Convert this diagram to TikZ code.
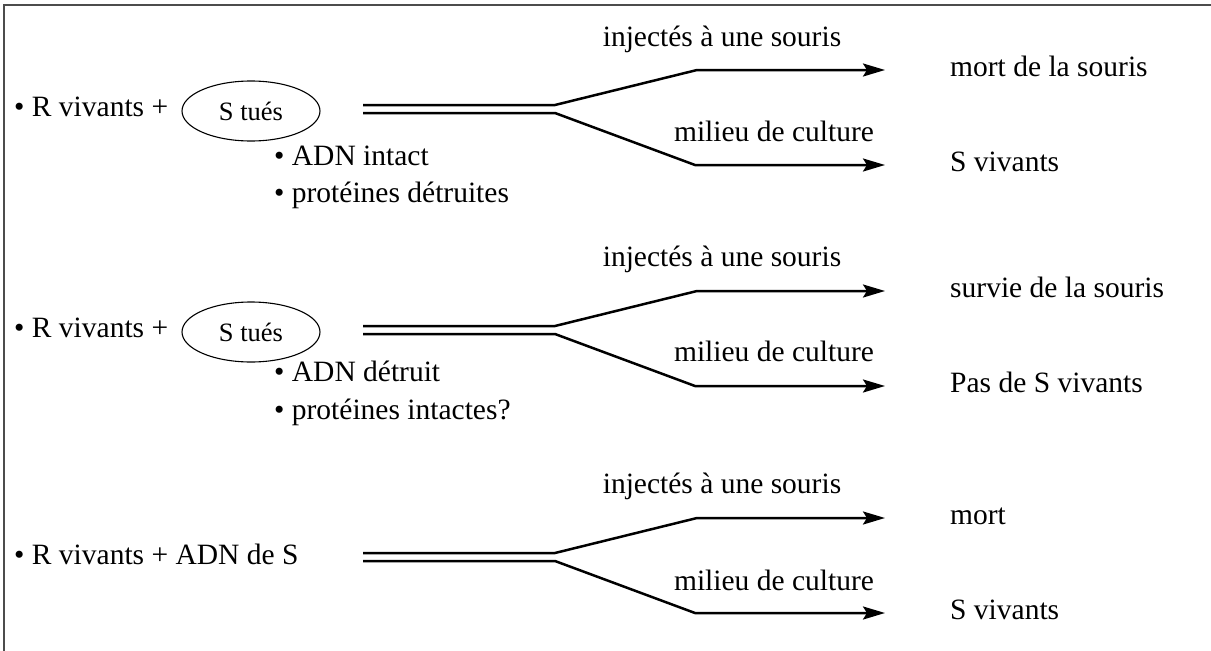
\documentclass[tikz,border=0pt]{standalone}
\usepackage{fontspec}
\setmainfont{Liberation Serif}
\usetikzlibrary{arrows.meta,shapes.geometric}
\begin{document}
\begin{tikzpicture}[x=1pt,y=-1pt,
  lbl/.style={font=\fontsize{29.5}{34}\selectfont, inner sep=0pt, anchor=base west},
  ctr/.style={font=\fontsize{29.5}{34}\selectfont, inner sep=0pt, anchor=base},
  oval/.style={draw, ellipse, line width=1.1pt, minimum width=138pt, minimum height=60pt, inner sep=0pt, font=\fontsize{26.5}{30}\selectfont},
  branch/.style={line width=2.5pt, -{Stealth[length=22pt,width=13pt,inset=4pt]}},
  frame/.style={line width=1.5pt, draw=black!70}]
\useasboundingbox (0,0) rectangle (1211,651);
\coordinate (fb) at (4,651);
\coordinate (fc) at (4,5);
\coordinate (fr) at (1211,5);
\draw[frame] (fb) -- (fc) -- (fr);

\foreach \i/\c in {1/109, 2/330, 3/557} {
  \coordinate (s\i u) at (363,\c-4);
  \coordinate (s\i d) at (363,\c+4);
  \coordinate (f\i u) at (555,\c-4);
  \coordinate (f\i d) at (555,\c+4);
  \coordinate (h\i u) at (697,\c-39);
  \coordinate (h\i d) at (695,\c+56);
  \coordinate (t\i u) at (885,\c-39);
  \coordinate (t\i d) at (885,\c+56);
  \draw[branch] (s\i u) -- (f\i u) -- (h\i u) -- (t\i u);
  \draw[branch] (s\i d) -- (f\i d) -- (h\i d) -- (t\i d);
}

% section 1
\node[lbl] (r1) at (14,116) {• R vivants +};
\node[oval] (e1) at (251,111) {S tués};
\node[lbl] (a1) at (274,165) {• ADN intact};
\node[lbl] (p1) at (274,202) {• protéines détruites};
\node[ctr] (i1) at (722,46) {injectés à une souris};
\node[ctr] (m1) at (774,141) {milieu de culture};
\node[lbl] (o1) at (950,76) {mort de la souris};
\node[lbl] (v1) at (950,171) {S vivants};

% section 2
\node[lbl] (r2) at (14,337) {• R vivants +};
\node[oval] (e2) at (251,332) {S tués};
\node[lbl] (a2) at (274,381) {• ADN détruit};
\node[lbl] (p2) at (274,419) {• protéines intactes?};
\node[ctr] (i2) at (722,266) {injectés à une souris};
\node[ctr] (m2) at (774,361) {milieu de culture};
\node[lbl] (o2) at (950,297) {survie de la souris};
\node[lbl] (v2) at (950,392) {Pas de S vivants};

% section 3
\node[lbl] (r3) at (14,564) {• R vivants + ADN de S};
\node[ctr] (i3) at (722,493) {injectés à une souris};
\node[ctr] (m3) at (774,590) {milieu de culture};
\node[lbl] (o3) at (950,524) {mort};
\node[lbl] (v3) at (950,619) {S vivants};
\end{tikzpicture}
\end{document}
